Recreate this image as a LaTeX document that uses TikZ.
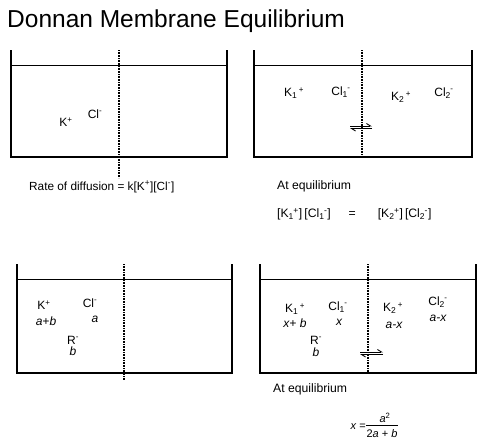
\documentclass[tikz,border=0pt]{standalone}
\usepackage{fontspec}
\setmainfont{Liberation Sans}
\usetikzlibrary{arrows.meta}
\tikzset{
  wall/.style={line width=2pt},
  water/.style={line width=0.8pt},
  membrane/.style={line width=1.6pt, dash pattern=on 0.8pt off 0.8pt},
  lbl/.style={font=\fontsize{12}{14}\selectfont, inner sep=0pt},
  val/.style={font=\fontsize{12}{14}\selectfont\itshape, inner sep=0pt},
  note/.style={anchor=west, inner sep=0pt, font=\fontsize{12.2}{14}\selectfont},
  harp/.style={line width=0.9pt, -{Straight Barb[left,length=4pt,width=5pt]}},
}
\newcommand{\sub}[1]{\raisebox{-0.35ex}{\fontsize{8.5}{9}\selectfont #1}}
\newcommand{\sps}[1]{\textsuperscript{#1}}
\begin{document}
\begin{tikzpicture}[x=1pt,y=-1pt]
\useasboundingbox (0,0) rectangle (485,440);

% title
\node[anchor=west, inner sep=0pt, font=\fontsize{24.5}{28}\selectfont] (title) at (7,21) {Donnan Membrane Equilibrium};

% ---------- Box 1 ----------
\draw[wall] (11,50) -- (11,157) -- (227,157) -- (227,50);
\draw[water] (11,65) -- (227,65);
\draw[membrane] (119,50) -- (119,178);
\node[lbl] (k1) at (66,122) {K\sps{+}};
\node[lbl] (c1) at (95,114) {Cl\sps{-}};
\node[note, font=\fontsize{11.8}{13}\selectfont] (rate) at (29,187) {Rate of diffusion = k[K\sps{+}][Cl\sps{-}]};

% ---------- Box 2 ----------
\draw[wall] (254,50) -- (254,157) -- (472,157) -- (472,50);
\draw[water] (254,65) -- (472,65);
\draw[membrane] (362,50) -- (362,157);
\node[lbl] (b2k1) at (294,93) {K\sub{1}\,\sps{+}};
\node[lbl] (b2c1) at (341,92) {Cl\sub{1}\sps{-}};
\node[lbl] (b2k2) at (401,97) {K\sub{2}\,\sps{+}};
\node[lbl] (b2c2) at (444,93) {Cl\sub{2}\sps{-}};
\coordinate (a2l) at (350,126);
\coordinate (a2r) at (372,126);
\coordinate (a2l2) at (350,128.5);
\coordinate (a2r2) at (372,128.5);
\draw[harp] (a2l) -- (a2r);
\draw[harp] (a2r2) -- (a2l2);
\node[note] (eq2) at (277,186) {At equilibrium};
\node[note] (eqn2) at (277,214) {[K\sub{1}\sps{+}]\,[Cl\sub{1}\sps{-}]\hspace{18pt}=\hspace{22pt}[K\sub{2}\sps{+}]\,[Cl\sub{2}\sps{-}]};

% ---------- Box 3 ----------
\draw[wall] (17,264) -- (17,373) -- (232,373) -- (232,264);
\draw[water] (17,279) -- (232,279);
\draw[membrane] (124,264) -- (124,380);
\node[lbl] (k3) at (44,305) {K\sps{+}};
\node[lbl] (c3) at (90,303) {Cl\sps{-}};
\node[val] (k3v) at (46,321) {a+b};
\node[val] (c3v) at (95,319) {a};
\node[lbl] (r3) at (73,340) {R\sps{-}};
\node[val] (r3v) at (73,351) {b};

% ---------- Box 4 ----------
\draw[wall] (260,264) -- (260,373) -- (476,373) -- (476,264);
\draw[water] (260,279) -- (476,279);
\draw[membrane] (368,264) -- (368,373);
\node[lbl] (k41) at (295,309) {K\sub{1}\,\sps{+}};
\node[val] (k41v) at (295,323) {x+ b};
\node[lbl] (c41) at (338,307) {Cl\sub{1}\sps{-}};
\node[val] (c41v) at (339,322) {x};
\node[lbl] (k42) at (393,308) {K\sub{2}\,\sps{+}};
\node[val] (k42v) at (394,325) {a-x};
\node[lbl] (c42) at (438,302) {Cl\sub{2}\sps{-}};
\node[val] (c42v) at (438,318) {a-x};
\node[lbl] (r4) at (316,340) {R\sps{-}};
\node[val] (r4v) at (316,352) {b};
\coordinate (a4l) at (360,352);
\coordinate (a4r) at (383,352);
\coordinate (a4l2) at (360,354.5);
\coordinate (a4r2) at (383,354.5);
\draw[harp] (a4l) -- (a4r);
\draw[harp] (a4r2) -- (a4l2);
\node[note] (eq4) at (273,389) {At equilibrium};
% fraction
\node[lbl, anchor=east, font=\fontsize{11}{12}\selectfont] (xeq) at (366,427) {\textit{x} =};
\node[lbl, font=\fontsize{11}{12}\selectfont] (num) at (385,418) {\textit{a}\sps{2}};
\node[lbl, font=\fontsize{11}{12}\selectfont] (den) at (382,434) {2\textit{a} + \textit{b}};
\draw[line width=0.6pt] (den.west |- 0,425.5) -- (den.east |- 0,425.5);
\end{tikzpicture}
\end{document}
